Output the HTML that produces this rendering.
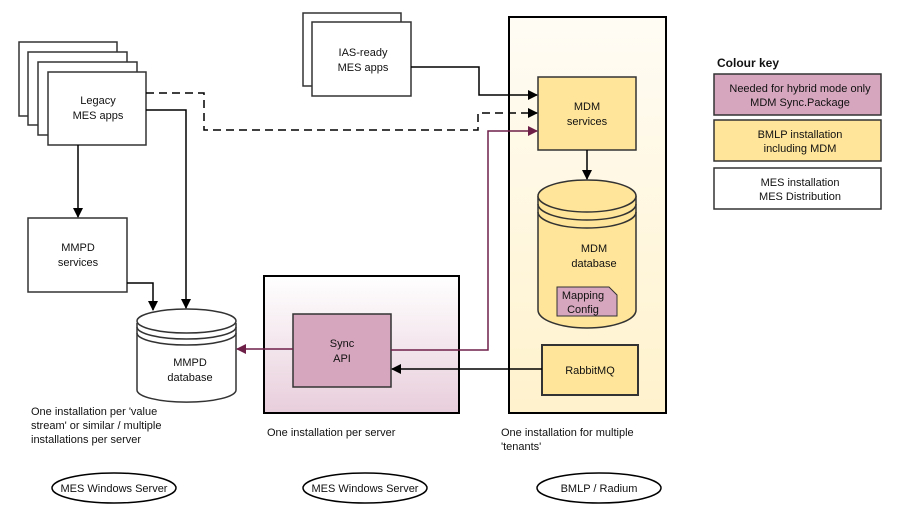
<!DOCTYPE html>
<html><head><meta charset="utf-8"><style>body{margin:0;background:#fff}svg{display:block}text{font-family:"Liberation Sans",sans-serif;font-size:11px;fill:#111}</style></head><body>
<svg width="900" height="520" viewBox="0 0 900 520" xmlns="http://www.w3.org/2000/svg">
<defs>
<linearGradient id="gy" x1="0" y1="0" x2="0" y2="1"><stop offset="0" stop-color="#fffcf5"/><stop offset="1" stop-color="#fff2cc"/></linearGradient>
<linearGradient id="gp" x1="0" y1="0" x2="0" y2="1"><stop offset="0" stop-color="#ffffff"/><stop offset="1" stop-color="#e8cedb"/></linearGradient>
<marker id="ab" markerWidth="10" markerHeight="10" refX="9" refY="5" orient="auto" markerUnits="userSpaceOnUse"><path d="M0,0 L10,5 L0,10 Z" fill="#000"/></marker>
<marker id="ap" markerWidth="10" markerHeight="10" refX="9" refY="5" orient="auto" markerUnits="userSpaceOnUse"><path d="M0,0 L10,5 L0,10 Z" fill="#6e1f48"/></marker>
</defs>
<g stroke="#333" stroke-width="1.5">
<rect x="509" y="17" width="157" height="396" fill="url(#gy)" stroke="#000" stroke-width="2"/>
<rect x="264" y="276" width="195" height="137" fill="url(#gp)" stroke="#000" stroke-width="2"/>
<rect x="19" y="42" width="98" height="74" fill="#fff"/>
<rect x="28" y="52" width="99" height="73" fill="#fff"/>
<rect x="38" y="62" width="99" height="73" fill="#fff"/>
<rect x="48" y="72" width="98" height="73" fill="#fff"/>
<rect x="303" y="13" width="98" height="73" fill="#fff"/>
<rect x="312" y="22" width="99" height="74" fill="#fff"/>
<rect x="28" y="218" width="99" height="74" fill="#fff"/>
<rect x="538" y="77" width="98" height="73" fill="#ffe599"/>
<path d="M538,196 L538,310 A49,18 0 0 0 636,310 L636,196" fill="#ffe599"/>
<ellipse cx="587" cy="196" rx="49" ry="16" fill="#ffe599"/>
<path d="M538,204 A49,16 0 0 0 636,204 M538,212 A49,16 0 0 0 636,212" fill="none"/>
<path d="M557,287 L609,287 L617,295 L617,316 L557,316 Z" fill="#d5a6bd" stroke-width="1"/>
<rect x="542" y="345" width="96" height="50" fill="#ffe599" stroke-width="2"/>
<rect x="293" y="314" width="98" height="73" fill="#d5a6bd"/>
<path d="M137,323 L137,390 A49,12 0 0 0 236,390 L236,323" fill="#fff"/>
<ellipse cx="186.5" cy="321" rx="49.5" ry="12" fill="#fff"/>
<path d="M137,327 A49.5,12 0 0 0 236,327 M137,333 A49.5,12 0 0 0 236,333" fill="none"/>
<rect x="714" y="74" width="167" height="41" fill="#d5a6bd"/>
<rect x="714" y="120" width="167" height="41" fill="#ffe599"/>
<rect x="714" y="168" width="167" height="41" fill="#fff"/>
<ellipse cx="114" cy="488" rx="62" ry="15" fill="#fff" stroke="#000"/>
<ellipse cx="365" cy="488" rx="62" ry="15" fill="#fff" stroke="#000"/>
<ellipse cx="599" cy="488" rx="62" ry="15" fill="#fff" stroke="#000"/>
</g>
<g fill="none" stroke="#000" stroke-width="1.5">
<path d="M78,145 L78,217" marker-end="url(#ab)"/>
<path d="M146,110 L186,110 L186,308" marker-end="url(#ab)"/>
<path d="M127,283 L153,283 L153,310" marker-end="url(#ab)"/>
<path d="M146,93 L204,93 L204,130 L478,130 L478,113 L537,113" stroke-dasharray="8,5" marker-end="url(#ab)"/>
<path d="M411,67 L479,67 L479,95 L537,95" marker-end="url(#ab)"/>
<path d="M587,150 L587,179" marker-end="url(#ab)"/>
<path d="M542,369 L392,369" marker-end="url(#ab)"/>
<path d="M391,350 L488,350 L488,131 L537,131" stroke="#6e1f48" marker-end="url(#ap)"/>
<path d="M293,349 L237,349" stroke="#6e1f48" marker-end="url(#ap)"/>
</g>
<g text-anchor="middle">
<text x="98" y="104">Legacy</text><text x="98" y="119">MES apps</text>
<text x="363" y="56">IAS-ready</text><text x="363" y="71">MES apps</text>
<text x="78" y="251">MMPD</text><text x="78" y="266">services</text>
<text x="587" y="110">MDM</text><text x="587" y="125">services</text>
<text x="594" y="252">MDM</text><text x="594" y="267">database</text>
<text x="583" y="299">Mapping</text><text x="583" y="313">Config</text>
<text x="590" y="374">RabbitMQ</text>
<text x="342" y="347">Sync</text><text x="342" y="362">API</text>
<text x="190" y="366">MMPD</text><text x="190" y="381">database</text>
<text x="800" y="92">Needed for hybrid mode only</text><text x="800" y="106">MDM Sync.Package</text>
<text x="800" y="138">BMLP installation</text><text x="800" y="152">including MDM</text>
<text x="800" y="186">MES installation</text><text x="800" y="200">MES Distribution</text>
<text x="114" y="492">MES Windows Server</text>
<text x="365" y="492">MES Windows Server</text>
<text x="599" y="492">BMLP / Radium</text>
</g>
<text x="717" y="67" style="font-weight:bold;font-size:12px">Colour key</text>
<text x="31" y="415">One installation per 'value</text>
<text x="31" y="429">stream' or similar / multiple</text>
<text x="31" y="443">installations per server</text>
<text x="267" y="436">One installation per server</text>
<text x="501" y="436">One installation for multiple</text>
<text x="501" y="450">'tenants'</text>
</svg>
</body></html>
